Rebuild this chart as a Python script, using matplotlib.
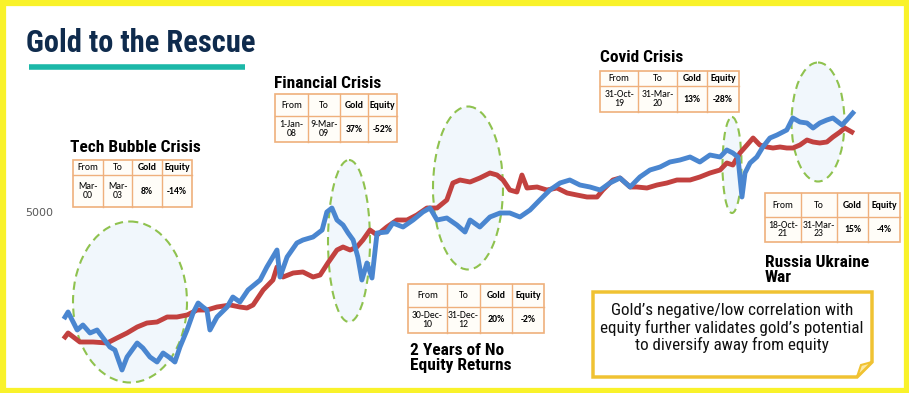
import matplotlib
matplotlib.use("Agg")
import matplotlib.pyplot as plt
from matplotlib.patches import Rectangle, Ellipse, Polygon

# equity index (blue) and gold index (red), decimal year vs index level
equity_dates = [2000.03, 2000.12, 2000.39, 2000.56, 2000.77, 2000.98, 2001.16, 2001.36, 2001.51, 2001.72,
                2001.87, 2002.17, 2002.34, 2002.55, 2002.76, 2002.94, 2003.15, 2003.29, 2003.44, 2003.65,
                2003.83, 2003.98, 2004.12, 2004.24, 2004.33, 2004.54, 2004.84, 2005.01, 2005.22, 2005.46,
                2005.82, 2006.02, 2006.32, 2006.41, 2006.62, 2006.91, 2007.09, 2007.39, 2007.66, 2007.80,
                2007.95, 2008.10, 2008.28, 2008.43, 2008.58, 2008.72, 2008.84, 2008.99, 2009.14, 2009.29,
                2009.58, 2009.76, 2010.06, 2010.36, 2010.65, 2010.86, 2011.07, 2011.36, 2011.66, 2011.90,
                2012.05, 2012.34, 2012.64, 2012.94, 2013.23, 2013.53, 2013.83, 2014.12, 2014.42, 2014.72,
                2015.01, 2015.31, 2015.61, 2015.91, 2016.20, 2016.50, 2016.80, 2017.09, 2017.39, 2017.69,
                2017.98, 2018.28, 2018.58, 2018.87, 2019.17, 2019.47, 2019.67, 2019.85, 2020.00, 2020.12,
                2020.21, 2020.36, 2020.56, 2020.74, 2020.95, 2021.16, 2021.45, 2021.63, 2021.84, 2022.05,
                2022.23, 2022.43, 2022.64, 2022.82, 2023.09, 2023.23, 2023.41]
equity_index = [2900, 3000, 2640, 2740, 2580, 2640, 2480, 2300, 2240, 1840,
                2100, 2380, 2280, 2100, 2000, 2180, 2080, 2000, 2300, 2640,
                2980, 3180, 3100, 3040, 2640, 2900, 3100, 3300, 3200, 3440,
                3640, 3900, 4240, 3700, 4100, 4380, 4440, 4500, 4640, 5000,
                5080, 4840, 4740, 4580, 4440, 4100, 3640, 3980, 3680, 4580,
                4600, 4780, 4700, 4840, 5000, 5080, 4840, 4880, 4740, 4600,
                4840, 4700, 4900, 4980, 4980, 4900, 5040, 5240, 5440, 5580,
                5640, 5540, 5500, 5440, 5580, 5680, 5500, 5700, 5840, 5900,
                6000, 6040, 6100, 6000, 6140, 6100, 6240, 6180, 6100, 5300,
                5780, 5980, 6100, 6300, 6480, 6540, 6640, 6880, 6800, 6780,
                6680, 6780, 6840, 6880, 6740, 6840, 6980]

gold_dates = [2000.03, 2000.12, 2000.47, 2000.86, 2001.28, 2001.57, 2001.87, 2002.17, 2002.46, 2002.76,
              2003.06, 2003.35, 2003.65, 2003.95, 2004.24, 2004.54, 2004.93, 2005.22, 2005.43, 2005.61,
              2005.91, 2006.20, 2006.32, 2006.50, 2006.80, 2007.09, 2007.39, 2007.60, 2007.83, 2008.10,
              2008.28, 2008.49, 2008.69, 2008.87, 2009.08, 2009.29, 2009.58, 2009.88, 2010.18, 2010.47,
              2010.77, 2011.07, 2011.36, 2011.54, 2011.75, 2012.05, 2012.34, 2012.64, 2012.85, 2013.03,
              2013.23, 2013.44, 2013.59, 2013.74, 2014.04, 2014.33, 2014.63, 2014.93, 2015.22, 2015.52,
              2015.82, 2015.99, 2016.29, 2016.50, 2016.80, 2017.00, 2017.30, 2017.60, 2017.89, 2018.19,
              2018.58, 2018.87, 2019.17, 2019.47, 2019.67, 2019.85, 2020.06, 2020.27, 2020.45, 2020.65,
              2020.86, 2021.04, 2021.25, 2021.45, 2021.63, 2021.84, 2022.05, 2022.23, 2022.43, 2022.64,
              2022.82, 2023.03, 2023.17, 2023.38]
gold_index = [2500, 2580, 2400, 2400, 2380, 2480, 2580, 2700, 2780, 2800,
              2900, 2900, 2940, 3040, 3040, 3100, 3140, 3100, 3080, 3140,
              3440, 3640, 3900, 3700, 3780, 3800, 3700, 3740, 3980, 4240,
              4300, 4240, 4300, 4440, 4640, 4540, 4700, 4840, 4840, 4940,
              5080, 5080, 5240, 5580, 5640, 5600, 5680, 5780, 5740, 5640,
              5440, 5400, 5740, 5480, 5500, 5440, 5480, 5380, 5340, 5300,
              5300, 5440, 5640, 5680, 5500, 5500, 5480, 5540, 5580, 5640,
              5640, 5700, 5780, 5840, 5980, 5940, 6180, 6340, 6480, 6340,
              6300, 6280, 6300, 6280, 6280, 6340, 6440, 6400, 6380, 6400,
              6500, 6600, 6680, 6600]

y_ticks = [5000]

crisis_names = ["Tech Bubble Crisis", "Financial Crisis", "2 Years of No\nEquity Returns",
                "Covid Crisis", "Russia Ukraine\nWar"]
crisis_from = ["Mar-\n00", "1-Jan-\n08", "30-Dec-\n10", "31-Oct-\n19", "18-Oct-\n21"]
crisis_to = ["Mar-\n03", "9-Mar-\n09", "31-Dec-\n12", "31-Mar-\n20", "31-Mar-\n23"]
gold_ret = ["8%", "37%", "20%", "13%", "15%"]
equity_ret = ["-14%", "-52%", "-2%", "-28%", "-4%"]
col_heads = ["From", "To", "Gold", "Equity"]

# layout, in pixels of the 909x393 picture
table_cols = [[73, 103, 132, 162, 192], [275, 308, 340, 368, 397], [408, 447, 480, 512, 544],
              [600, 638, 677, 707, 739], [765, 801, 837, 868, 900]]
table_rows = [[160, 175, 207], [94, 116, 142], [284, 307, 333], [71, 86, 112], [193, 217, 242]]
heading_xy = [(70, 147), (274, 83), (410, 358), (600, 58), (765, 270)]
ellipses = [(130, 302, 114, 161), (349, 241, 42, 162), (468, 188, 70, 163),
            (732, 165, 19, 96), (818, 122, 53, 119)]

narrow = ["Roboto Condensed", "DejaVu Sans"]
cell_font = ["Carlito", "Lato", "DejaVu Sans"]
edge = "#efb07c"

fig = plt.figure(figsize=(9.09, 3.93), dpi=100)
bg = fig.add_axes([0, 0, 1, 1], zorder=0)
bg.set_xlim(0, 909)
bg.set_ylim(393, 0)
bg.axis("off")

# frame
bg.add_patch(Rectangle((2.5, 2.5), 904, 388, fill=False, edgecolor="#f9f22a", linewidth=4.5, clip_on=False))

# title
bg.text(26, 43, "Gold to the Rescue", family=narrow, weight="bold", fontsize=22,
        color="#0f2b4d", va="center", ha="left")
bg.plot([29, 245], [67, 67], color="#1cb8a8", linewidth=4, solid_capstyle="butt")

for (cx, cy, w, h) in ellipses:
    bg.add_patch(Ellipse((cx, cy), w, h, facecolor="#f1f7fc", edgecolor="#8fc24f",
                         linewidth=1.5, linestyle=(0, (4, 2.5))))


def draw_table(xs, ys, frm, to, g, e):
    bg.add_patch(Rectangle((xs[0], ys[0]), xs[-1] - xs[0], ys[2] - ys[0],
                           facecolor="#fffdf8", edgecolor=edge, linewidth=1.2))
    for x in xs[1:-1]:
        bg.plot([x, x], [ys[0], ys[2]], color=edge, linewidth=1)
    bg.plot([xs[0], xs[-1]], [ys[1], ys[1]], color=edge, linewidth=1)
    for i, head in enumerate(col_heads):
        bg.text((xs[i] + xs[i + 1]) / 2, (ys[0] + ys[1]) / 2, head, family=cell_font, fontsize=7,
                weight="bold" if i > 1 else "normal", ha="center", va="center")
    body = [frm, to, g, e]
    for i, val in enumerate(body):
        bg.text((xs[i] + xs[i + 1]) / 2, (ys[1] + ys[2]) / 2, val, family=cell_font, fontsize=7,
                weight="bold" if i > 1 else "normal", ha="center", va="center", linespacing=1.0)


for k in range(len(crisis_names)):
    draw_table(table_cols[k], table_rows[k], crisis_from[k], crisis_to[k], gold_ret[k], equity_ret[k])
    hx, hy = heading_xy[k]
    bg.text(hx, hy, crisis_names[k], family=narrow, weight="bold", fontsize=12.5,
            ha="left", va="center", linespacing=1.0)

# callout box with folded corner
bg.add_patch(Polygon([(593, 292), (872, 292), (872, 362), (857, 377), (593, 377)], closed=True,
                     facecolor="white", edgecolor="#f0c232", linewidth=2.5))
bg.add_patch(Polygon([(857, 377), (861, 365), (872, 362)], closed=True,
                     facecolor="#fbe9a6", edgecolor="#f0c232", linewidth=1.5))
bg.text(732, 328, "Gold\u2019s negative/low correlation with\nequity further validates gold\u2019s potential\nto diversify away from equity",
        family=narrow, fontsize=12.3, ha="center", va="center", linespacing=1.15, color="#111111")

# chart
ax = fig.add_axes([60 / 909, 8 / 393, 810 / 909, 325 / 393], zorder=1)
ax.patch.set_alpha(0)
ax.plot(gold_dates, gold_index, color="#c2413f", linewidth=3.5)
ax.plot(equity_dates, equity_index, color="#4a86d0", linewidth=3.5)
ax.set_xlim(1999.88, 2023.92)
ax.set_ylim(1540, 8040)
ax.set_xticks([])
ax.set_yticks(y_ticks)
ax.set_yticklabels([str(t) for t in y_ticks])
ax.tick_params(axis="y", length=0, pad=5, labelsize=8, labelcolor="#595959")
for s in ax.spines.values():
    s.set_visible(False)

fig.savefig("out.png", dpi=100)
